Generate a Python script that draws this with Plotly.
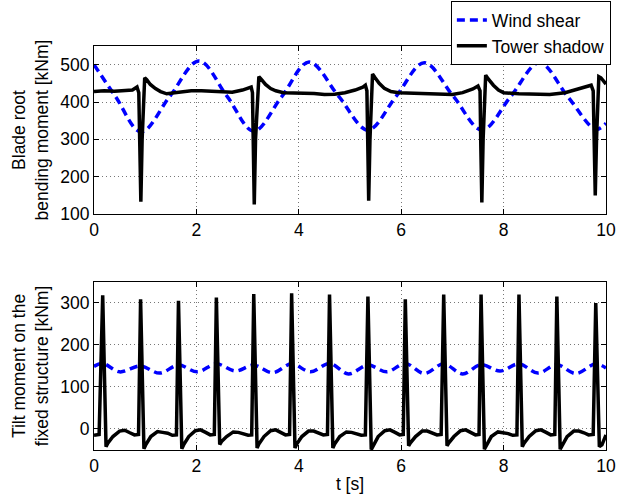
import plotly.graph_objects as go

# ---------------- data ----------------
# Blade root bending moment, wind shear (blue dashed)
blade_ws_t = [0.00, 0.42, 0.92, 1.48, 2.05, 2.60, 3.12, 3.66, 4.20, 4.78, 5.35,
              5.90, 6.45, 7.02, 7.58, 8.14, 8.70, 9.25, 9.80, 10.00]
blade_ws_v = [500, 415, 320, 415, 510, 415, 322, 413, 507, 415, 325,
              415, 505, 415, 325, 415, 505, 415, 327, 343]

# Blade root bending moment, tower shadow (black)
blade_ts_t = [0.00, 0.20, 0.40, 0.60, 0.75, 0.84, 0.875, 0.895, 0.915, 0.94, 0.99,
              1.03, 1.10, 1.20, 1.30, 1.42, 1.55, 1.70, 1.90, 2.10, 2.30, 2.50,
              2.70, 2.90, 3.02, 3.07, 3.095, 3.11, 3.13, 3.155, 3.22, 3.26, 3.35,
              3.45, 3.55, 3.70, 3.90, 4.10, 4.30, 4.50, 4.70, 4.90, 5.10, 5.25,
              5.30, 5.33, 5.345, 5.365, 5.39, 5.44, 5.49, 5.57, 5.67, 5.80, 5.95,
              6.20, 6.50, 6.80, 7.00, 7.20, 7.40, 7.50, 7.54, 7.555, 7.575, 7.60,
              7.65, 7.70, 7.80, 7.90, 8.00, 8.30, 8.60, 8.90, 9.20, 9.40, 9.60,
              9.71, 9.75, 9.77, 9.79, 9.815, 9.86, 9.90, 9.95, 10.00]
blade_ts_v = [428, 430, 429, 430, 432, 440, 425, 280, 133, 300, 465,
              460, 447, 436, 428, 422, 424, 428, 430, 430, 428, 426,
              426, 432, 438, 440, 425, 280, 126, 300, 468, 462, 447,
              436, 430, 425, 425, 425, 423, 420, 421, 425, 432, 440,
              445, 430, 280, 136, 300, 475, 465, 450, 437, 428, 425,
              424, 423, 420, 420, 425, 435, 443, 430, 280, 131, 300,
              472, 462, 445, 432, 425, 422, 420, 420, 425, 432, 440,
              445, 430, 280, 150, 300, 468, 465, 455, 448]

# Tilt moment on the fixed structure, wind shear (blue dashed)
tilt_ws_t = [0.00, 0.17, 0.50, 0.91, 1.28, 1.65, 2.02, 2.39, 2.76, 3.12, 3.49,
             3.86, 4.23, 4.60, 4.97, 5.35, 5.72, 6.08, 6.45, 6.83, 7.20, 7.56,
             7.93, 8.30, 8.67, 9.04, 9.41, 9.80, 10.00]
tilt_ws_v = [149, 156, 136, 150, 133, 152, 136, 155, 138, 152, 134,
             155, 136, 156, 131, 152, 136, 156, 132, 155, 131, 153,
             138, 155, 133, 153, 132, 155, 145]

# Tilt moment on the fixed structure, tower shadow (black)
tilt_ts_t = [0.00, 0.10,
             0.17, 0.235, 0.27, 0.37, 0.50, 0.60, 0.70, 0.79, 0.87,
             0.91, 0.975, 1.01, 1.11, 1.24, 1.34, 1.44, 1.53, 1.61,
             1.65, 1.715, 1.75, 1.85, 1.98, 2.08, 2.18, 2.27, 2.35,
             2.39, 2.455, 2.49, 2.59, 2.72, 2.82, 2.92, 3.01, 3.08,
             3.12, 3.185, 3.22, 3.32, 3.45, 3.55, 3.65, 3.74, 3.82,
             3.86, 3.925, 3.96, 4.06, 4.19, 4.29, 4.39, 4.48, 4.56,
             4.60, 4.665, 4.70, 4.80, 4.93, 5.03, 5.13, 5.22, 5.30,
             5.35, 5.415, 5.45, 5.55, 5.68, 5.78, 5.88, 5.97, 6.04,
             6.08, 6.145, 6.18, 6.28, 6.41, 6.51, 6.61, 6.70, 6.78,
             6.83, 6.895, 6.93, 7.03, 7.16, 7.26, 7.36, 7.45, 7.52,
             7.56, 7.625, 7.66, 7.76, 7.89, 7.99, 8.09, 8.18, 8.26,
             8.30, 8.365, 8.40, 8.50, 8.63, 8.73, 8.83, 8.92, 9.00,
             9.04, 9.105, 9.14, 9.24, 9.37, 9.47, 9.57, 9.66, 9.75,
             9.80, 9.87, 9.92, 10.00]
tilt_ts_v = [-15, -13,
             318, -42, -34, -18, -5, -3, -9, -14, -13,
             309, -47, -38, -18, -6, -8, -10, -15, -14,
             305, -47, -38, -18, -4, -2, -8, -14, -13,
             313, -37, -30, -18, -7, -8, -11, -15, -14,
             321, -45, -36, -18, -4, -2, -8, -14, -13,
             323, -45, -36, -18, -5, -5, -9, -14, -13,
             320, -45, -36, -18, -7, -8, -11, -15, -14,
             315, -49, -40, -18, -4, -2, -8, -14, -13,
             309, -40, -33, -18, -5, -5, -9, -14, -13,
             320, -40, -33, -18, -4, -2, -8, -14, -13,
             320, -48, -39, -18, -7, -8, -11, -15, -14,
             320, -42, -34, -18, -4, -2, -8, -14, -13,
             315, -48, -39, -18, -5, -5, -9, -14, -13,
             300, -42, -38, -14]

x_ticks = [0, 2, 4, 6, 8, 10]
blade_y_ticks = [100, 200, 300, 400, 500]
tilt_y_ticks = [0, 100, 200, 300]

# ---------------- figure ----------------
FONT = "Liberation Sans, Arial, Helvetica, sans-serif"
FS = 17.5
BLUE = "#0000ff"
DASH = "8px,5px"
LW = 3.5

fig = go.Figure()
fig.add_trace(go.Scatter(x=blade_ws_t, y=blade_ws_v, mode="lines", name="Wind shear",
                         line=dict(color=BLUE, width=LW, dash=DASH, shape="spline"),
                         xaxis="x", yaxis="y"))
fig.add_trace(go.Scatter(x=blade_ts_t, y=blade_ts_v, mode="lines", name="Tower shadow",
                         line=dict(color="black", width=LW),
                         xaxis="x", yaxis="y"))
fig.add_trace(go.Scatter(x=tilt_ws_t, y=tilt_ws_v, mode="lines", name="Wind shear",
                         line=dict(color=BLUE, width=LW, dash=DASH, shape="spline"),
                         xaxis="x2", yaxis="y2", showlegend=False))
fig.add_trace(go.Scatter(x=tilt_ts_t, y=tilt_ts_v, mode="lines", name="Tower shadow",
                         line=dict(color="black", width=LW),
                         xaxis="x2", yaxis="y2", showlegend=False))

axis_common = dict(
    showline=True, linecolor="black", linewidth=1, mirror="ticks",
    ticks="inside", ticklen=5, tickcolor="black", tickwidth=1,
    showgrid=True, gridcolor="#777777", griddash="1px,3px", gridwidth=1,
    zeroline=False, automargin=False,
    tickfont=dict(family=FONT, size=FS, color="black"),
)

fig.update_layout(
    width=619, height=498,
    margin=dict(l=94, r=13, t=46, b=48, autoexpand=False),
    paper_bgcolor="white", plot_bgcolor="white",
    font=dict(family=FONT, size=FS, color="black"),
    showlegend=True,
    legend=dict(x=0.697, y=1.111, xanchor="left", yanchor="top",
                bgcolor="white", bordercolor="black", borderwidth=1,
                font=dict(family=FONT, size=FS, color="black"),
                tracegroupgap=0),
    xaxis=dict(domain=[0, 1], range=[0, 10], tickvals=x_ticks, anchor="y", **axis_common),
    yaxis=dict(domain=[0.584, 1.0], range=[100, 550], tickvals=blade_y_ticks, anchor="x",
               title=dict(text="Blade root<br>bending moment [kNm]",
                          font=dict(family=FONT, size=FS), standoff=7),
               **axis_common),
    xaxis2=dict(domain=[0, 1], range=[0, 10], tickvals=x_ticks, anchor="y2",
                title=dict(text="t [s]", font=dict(family=FONT, size=FS), standoff=2),
                **axis_common),
    yaxis2=dict(domain=[0, 0.416], range=[-50, 350], tickvals=tilt_y_ticks, anchor="x2",
                title=dict(text="Tilt moment on the<br>fixed structure [kNm]",
                           font=dict(family=FONT, size=FS), standoff=7),
                **axis_common),
)

fig.write_html("out.html", config={"displayModeBar": False},
               post_script="document.body.style.margin='0px';")
